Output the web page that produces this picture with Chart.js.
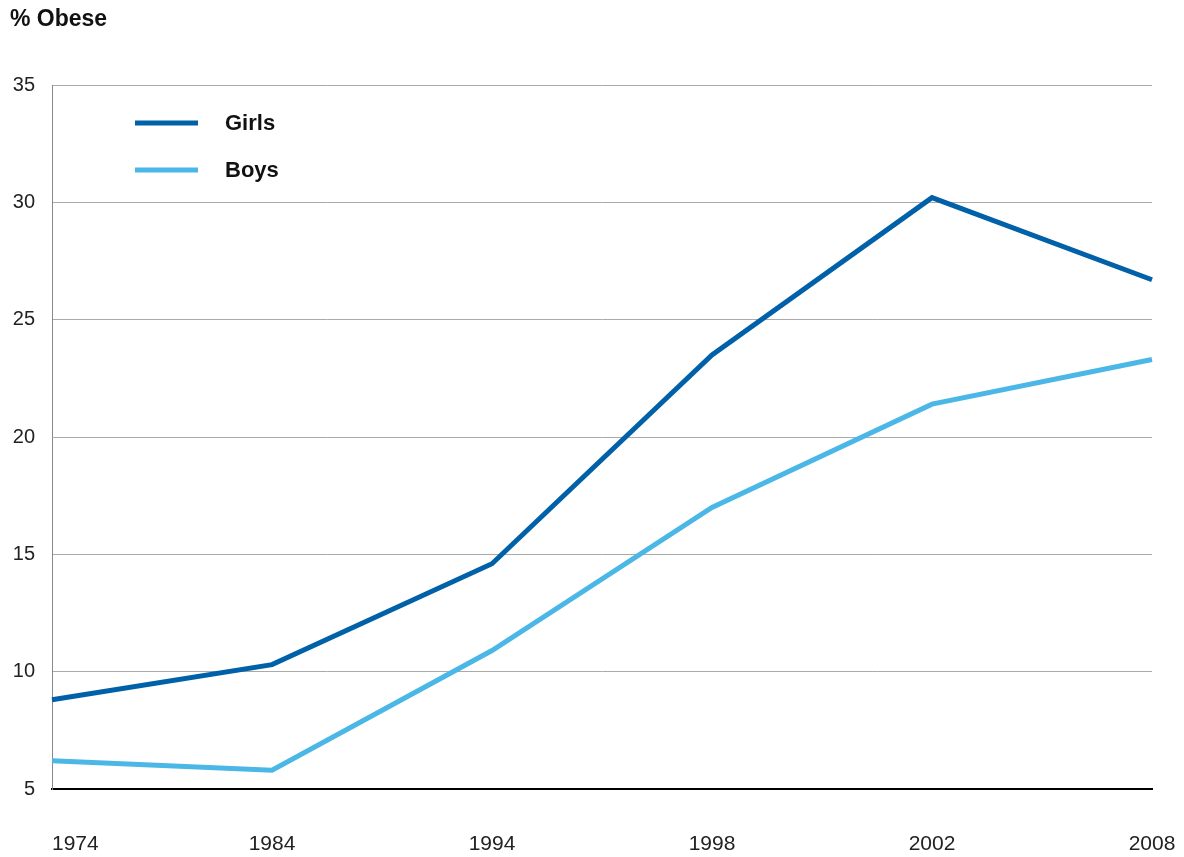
<!DOCTYPE html>
<html>
<head>
<meta charset="utf-8">
<script src="https://cdn.jsdelivr.net/npm/chart.js@4/dist/chart.umd.min.js"></script>
<style>
    html, body { margin: 0; padding: 0; background: #fff; }
    #wrap { width: 1184px; height: 857px; position: relative; }
</style>
</head>
<body>
<div id="wrap"><canvas id="chart" width="1184" height="857"></canvas></div>
<script>
const years = ['1974', '1984', '1994', '1998', '2002', '2008'];
const girls = [8.8, 10.3, 14.6, 23.5, 30.2, 26.7];
const boys = [6.2, 5.8, 10.9, 17.0, 21.4, 23.3];
const yTicks = [5, 10, 15, 20, 25, 30, 35];

const FONT = '"Liberation Sans", Arial, sans-serif';
const GIRLS_COLOR = '#0061a8';
const BOYS_COLOR = '#4bb7e6';

// title, legend and x labels drawn by hand
const decor = {
    id: 'decor',
    afterDraw(chart) {
        const ctx = chart.ctx;
        const x = chart.scales.x;
        ctx.save();
        ctx.fillStyle = '#111';
        ctx.font = 'bold 23px ' + FONT;
        ctx.textBaseline = 'middle';
        ctx.textAlign = 'left';
        ctx.fillText('% Obese', 10, 20);

        ctx.font = 'bold 22px ' + FONT;
        chart.data.datasets.forEach((ds, i) => {
            const y = 123 + i * 47;
            ctx.strokeStyle = ds.borderColor;
            ctx.lineWidth = 5;
            ctx.beginPath();
            ctx.moveTo(135, y);
            ctx.lineTo(198, y);
            ctx.stroke();
            ctx.fillText(ds.label, 225, y + 1);
        });

        ctx.font = '21px ' + FONT;
        ctx.fillStyle = '#222';
        years.forEach((yr, i) => {
            const px = x.getPixelForValue(i);
            ctx.textAlign = i === 0 ? 'left' : 'center';
            ctx.fillText(yr, px, 844);
        });
        ctx.restore();
    }
};

new Chart(document.getElementById('chart'), {
    type: 'line',
    data: {
        labels: years,
        datasets: [
            { label: 'Girls', data: girls, borderColor: GIRLS_COLOR, borderWidth: 5, pointRadius: 0, tension: 0, fill: false },
            { label: 'Boys', data: boys, borderColor: BOYS_COLOR, borderWidth: 5, pointRadius: 0, tension: 0, fill: false }
        ]
    },
    options: {
        responsive: false,
        animation: false,
        layout: { padding: { top: 85, right: 32, left: 0, bottom: 0 } },
        plugins: { legend: { display: false }, tooltip: { enabled: false } },
        scales: {
            x: {
                offset: false,
                grid: { display: false, drawTicks: false },
                border: { display: true, color: '#000', width: 2 },
                ticks: { display: false },
                afterFit(s) { s.height = 68; }
            },
            y: {
                min: 5,
                max: 35,
                afterBuildTicks(s) { s.ticks = yTicks.map(v => ({ value: v })); },
                grid: { color: '#aaa', lineWidth: 1, drawTicks: false },
                border: { display: true, color: '#888', width: 1 },
                ticks: {
                    color: '#222',
                    font: { family: FONT, size: 20 },
                    padding: 17
                },
                afterFit(s) { s.width = 52; }
            }
        }
    },
    plugins: [decor]
});
</script>
</body>
</html>
